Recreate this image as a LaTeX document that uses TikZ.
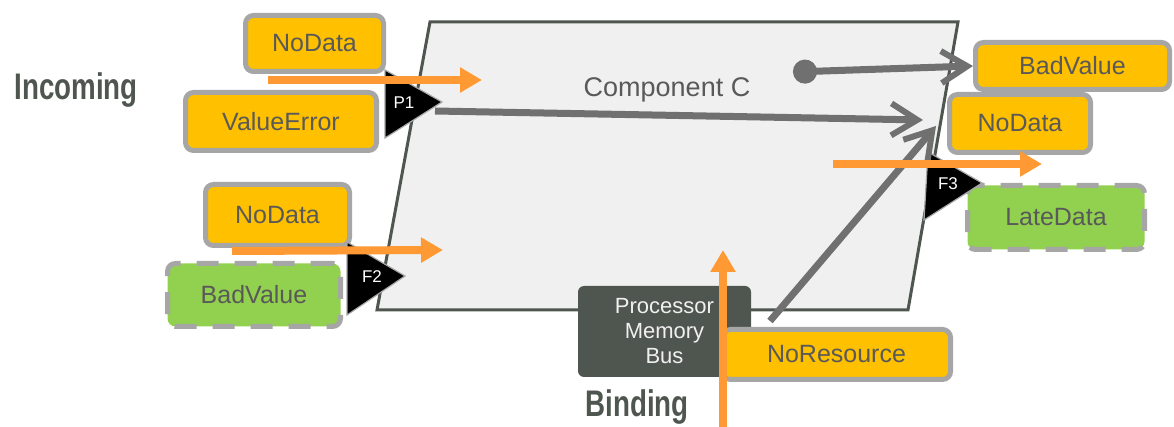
\documentclass[tikz,border=0pt]{standalone}
\usepackage{fontspec}
\setmainfont{Liberation Sans}
\usetikzlibrary{arrows.meta}

\definecolor{boxorange}{HTML}{FFC000}
\definecolor{boxgreen}{HTML}{92D050}
\definecolor{rimgray}{HTML}{A6A6A6}
\definecolor{txtgray}{HTML}{595959}
\definecolor{compfill}{HTML}{F0F0F0}
\definecolor{compedge}{HTML}{4F564F}
\definecolor{flowgray}{HTML}{707070}
\definecolor{floworange}{HTML}{FF9933}
\definecolor{hwdark}{HTML}{4F554F}

\tikzset{
  errbox/.style={rounded corners=4pt, fill=boxorange, draw=rimgray, line width=2.5pt,
    text=txtgray, font=\fontsize{12.5}{14}\selectfont, inner sep=0pt},
  okbox/.style={errbox, fill=boxgreen, dash pattern=on 11pt off 8pt},
  portlbl/.style={text=white, font=\fontsize{8.5}{9}\selectfont, inner sep=0pt},
  heading/.style={text=compedge, font=\fontsize{18.5}{20}\selectfont\bfseries, xscale=.75, anchor=base},
  flow/.style={draw=floworange, line width=4pt, -{Triangle[length=11pt,width=12pt]}},
  barb/.tip={Straight Barb[length=13pt,width=16pt,line width=3pt]},
  prop/.style={draw=flowgray, line width=3.5pt, -barb},
}

\begin{document}
\begin{tikzpicture}[x=.5pt, y=-.5pt]
  \useasboundingbox (0,0) rectangle (1174,427);

  % the component itself
  \draw[compedge, line width=1.5pt, fill=compfill] (430,22) -- (958,22) -- (908,310) -- (377,310) -- cycle;
  \node[text=txtgray, font=\fontsize{13.5}{15}\selectfont, anchor=base] (comp) at (667,97) {Component C};

  \node[heading] (incoming) at (76,100) {Incoming};
  \node[heading] (binding) at (637,417) {Binding};

  % incoming failures
  \node[errbox, minimum width=69pt, minimum height=28pt] (nodataA) at (314.5,43.5) {NoData};
  \node[errbox, minimum width=95.5pt, minimum height=29pt] (valerr) at (281,121.5) {ValueError};
  \node[errbox, minimum width=72pt, minimum height=30.5pt] (nodataB) at (277.5,215) {NoData};
  \node[okbox, minimum width=86.5pt, minimum height=31.5pt] (badvalA) at (254,295) {BadValue};

  % outgoing failures
  \node[errbox, minimum width=97pt, minimum height=23.5pt] (badvalB) at (1072.5,66) {BadValue};
  \node[errbox, minimum width=70.5pt, minimum height=29pt] (nodataC) at (1020,123.5) {NoData};
  \node[okbox, minimum width=88.5pt, minimum height=32pt] (latedata) at (1056,217.5) {LateData};

  % binding
  \node[fill=hwdark, rounded corners=3pt, minimum width=86.5pt, minimum height=45.5pt,
    text=compfill, align=center, font=\fontsize{11}{12.5}\selectfont, inner sep=0pt] (pmb) at (664.5,331.5) {Processor\\Memory\\Bus};
  \node[errbox, minimum width=114pt, minimum height=25pt] (nores) at (836.5,354.5) {NoResource};

  % ports
  \fill[black, draw=rimgray, line width=.6pt] (385,70) -- (442,102) -- (385,138) -- cycle;
  \fill[black, draw=rimgray, line width=.6pt] (347,242) -- (405,276) -- (347,315) -- cycle;
  \fill[black, draw=rimgray, line width=.6pt] (928,152) -- (982,183) -- (924,220) -- cycle;
  \node[portlbl] (p1) at (404,103) {P1};
  \node[portlbl] (f2) at (372,277) {F2};
  \node[portlbl] (f3) at (948,184) {F3};

  % propagation inside the component
  \coordinate (p1out) at (435,111);
  \coordinate (p1end) at (923,120);
  \coordinate (src) at (793,72);
  \coordinate (nrtop) at (770,321);
  \coordinate (nrend) at (936,126);
  \draw[prop] (p1out) -- (p1end);
  \draw[prop, {Circle[length=12pt]}-barb] (src) -- (badvalB.west);
  \draw[prop] (nrtop) -- (nrend);

  % error flows
  \coordinate (inA) at (268,80);
  \coordinate (inAend) at (482,80);
  \coordinate (inB) at (232,251);
  \coordinate (inBend) at (443,250);
  \coordinate (outC) at (833,164);
  \coordinate (outCend) at (1042,164);
  \coordinate (bindin) at (723,427);
  \coordinate (bindend) at (723,250);
  \draw[flow] (inA) -- (inAend);
  \draw[flow] (inB) -- (inBend);
  \draw[flow] (outC) -- (outCend);
  \draw[flow] (bindin) -- (bindend);
\end{tikzpicture}
\end{document}
